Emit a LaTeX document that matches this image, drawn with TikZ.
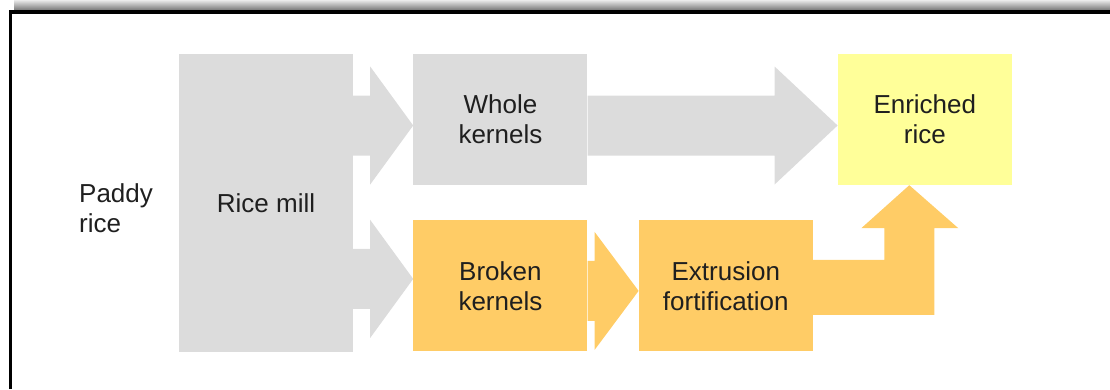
\documentclass[tikz,border=0pt]{standalone}
\usepackage{fontspec}
\setmainfont{Liberation Sans}
\usetikzlibrary{positioning,calc}
\definecolor{millgrey}{HTML}{DCDCDC}
\definecolor{brokenorange}{HTML}{FFCC66}
\definecolor{riceyellow}{HTML}{FFFF99}
\tikzstyle{stage} = [rectangle, fill=millgrey, text=black!88, align=center, minimum width=174pt, minimum height=131pt, inner sep=0pt, font=\fontsize{26}{30}\selectfont]
\tikzstyle{fortified} = [stage, fill=brokenorange]
\tikzstyle{final} = [stage, fill=riceyellow]
\tikzstyle{plain} = [text=black!88, align=left, inner sep=0pt, font=\fontsize{26}{30}\selectfont]

% fat arrow: colour, start, tip, head length
\newcommand{\fatarrow}[4]{\fill[#1] let \p1=(#2), \p2=(#3) in
  (\x1,\y2+30pt) -- (\x2-#4,\y2+30pt) -- (\x2-#4,\y2+59pt) -- (\x2,\y2)
  -- (\x2-#4,\y2-59pt) -- (\x2-#4,\y2-30pt) -- (\x1,\y2-30pt) -- cycle;}

\begin{document}
\begin{tikzpicture}[x=1pt, y=-1pt]
   \useasboundingbox (0,0) rectangle (1110,389);
   % frame
   \shade[top color=black!8, bottom color=black!55] (14,0) rectangle (1110,10.5);
   \draw[line width=3.5pt] (10.5,389) -- (10.5,12) -- (1110,12);

   % nodes
   \node[stage, minimum height=298pt] (mill) at (266,203)         {Rice mill};
   \node[plain, anchor=west] (paddy) at (79,208.5)                {Paddy\\rice};
   \node[stage] (whole) [right=60pt of mill.north east, anchor=north west] {Whole\\kernels};
   \node[fortified] (broken) [below=35pt of whole]                {Broken\\kernels};
   \node[fortified] (extr) [right=51pt of broken]                 {Extrusion\\fortification};
   \node[final] (enriched) [right=250pt of whole]                 {Enriched\\rice};
   \coordinate (rise) at ([xshift=-15.5pt]enriched.south);

   % edges
   \fatarrow{millgrey}{mill.east}{[yshift=-6pt]whole.west}{43pt}
   \fatarrow{millgrey}{mill.east}{[yshift=7pt]broken.west}{43pt}
   \fatarrow{millgrey}{whole.east}{[yshift=-6pt]enriched.west}{63pt}
   \fatarrow{brokenorange}{broken.east}{[yshift=-5pt]extr.west}{44pt}
   \fill[brokenorange] let \p1=(extr.east), \p2=(rise) in
      (\x1,\y1+26pt) -- (\x2-25pt,\y1+26pt) -- (\x2-25pt,\y2-43pt) -- (\x2-48pt,\y2-43pt)
      -- (\x2,\y2) -- (\x2+49pt,\y2-43pt) -- (\x2+25pt,\y2-43pt) -- (\x2+25pt,\y1-29pt)
      -- (\x1,\y1-29pt) -- cycle;
\end{tikzpicture}
\end{document}
